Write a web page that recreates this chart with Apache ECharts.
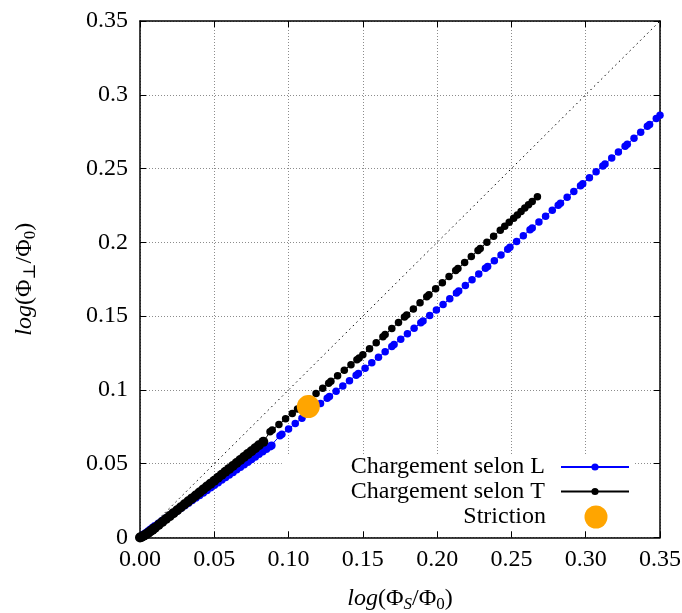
<!DOCTYPE html>
<html>
<head>
<meta charset="utf-8">
<script src="https://cdn.jsdelivr.net/npm/echarts@6/dist/echarts.min.js"></script>
<style>
html,body{margin:0;padding:0;background:#fff;}
#chart{width:682px;height:613px;}
</style>
</head>
<body>
<div id="chart"></div>
<script>
// ---- Data ----
var xTicks = [0, 0.05, 0.10, 0.15, 0.20, 0.25, 0.30, 0.35];
var yTicks = [0, 0.05, 0.1, 0.15, 0.2, 0.25, 0.3, 0.35];

var seriesNames = ['Chargement selon L', 'Chargement selon T', 'Striction'];

// Chargement selon L (blue) : [log(PhiS/Phi0), log(Phiperp/Phi0)]
var loadL = [
  [0,0],[0.001,0.0008],[0.0025,0.002],[0.004,0.0031],[0.0055,0.0043],[0.007,0.0055],[0.0085,0.0066],
  [0.01,0.0078],[0.0125,0.0095],[0.015,0.0113],[0.0175,0.0130],[0.02,0.0148],[0.0225,0.0165],
  [0.025,0.0182],[0.0275,0.0200],[0.03,0.0217],[0.0325,0.0234],[0.035,0.0252],[0.0375,0.0269],
  [0.04,0.0287],[0.0425,0.0304],[0.045,0.0321],[0.0475,0.0339],[0.05,0.0356],[0.0525,0.0373],
  [0.055,0.0391],[0.0575,0.0408],[0.06,0.0426],[0.0625,0.0443],[0.065,0.0460],[0.0675,0.0478],
  [0.07,0.0495],[0.0725,0.0512],[0.075,0.0530],[0.0775,0.0547],[0.08,0.0565],[0.0825,0.0582],
  [0.085,0.0599],[0.0875,0.0616],[0.0886,0.0624],
  [0.0942,0.0690],[0.0955,0.0700],[0.1,0.0736],[0.1045,0.0772],[0.109,0.0808],[0.1135,0.0844],
  [0.117,0.0872],[0.1215,0.0908],[0.126,0.0943],[0.1275,0.0955],[0.132,0.0991],[0.1365,0.1027],
  [0.141,0.1063],[0.1455,0.1099],[0.147,0.1111],[0.1515,0.1147],
  [0.156,0.1184],[0.1605,0.1221],[0.165,0.1258],[0.1695,0.1295],[0.171,0.1307],[0.1755,0.1344],
  [0.18,0.1381],[0.1845,0.1418],[0.189,0.1455],[0.1905,0.1467],[0.195,0.1504],[0.1995,0.1541],
  [0.204,0.1579],[0.2085,0.1618],[0.213,0.1657],[0.2145,0.1670],[0.219,0.1708],[0.2235,0.1747],
  [0.228,0.1786],[0.2325,0.1825],[0.234,0.1837],[0.2385,0.1876],[0.243,0.1915],[0.2475,0.1954],
  [0.249,0.1966],
  [0.2535,0.2006],[0.258,0.2045],[0.2625,0.2085],[0.264,0.2098],[0.2685,0.2138],[0.273,0.2177],
  [0.2775,0.2217],[0.2815,0.2252],[0.283,0.2265],[0.2875,0.2305],[0.292,0.2345],[0.2965,0.2384],
  [0.298,0.2397],
  [0.3025,0.2437],[0.307,0.2478],[0.3115,0.2518],[0.313,0.2531],[0.3175,0.2571],[0.322,0.2612],
  [0.3265,0.2652],[0.328,0.2665],[0.3325,0.2706],[0.337,0.2746],[0.3415,0.2786],[0.343,0.2799],
  [0.3475,0.2840],[0.35,0.2862]
];

// Chargement selon T (black)
var loadT = [
  [0,0],[0.001,0.0004],[0.0025,0.0012],[0.004,0.0021],[0.0055,0.0031],[0.007,0.0042],[0.0085,0.0053],
  [0.01,0.0065],[0.0125,0.0085],[0.015,0.0105],[0.0175,0.0125],[0.02,0.0145],[0.0225,0.0165],
  [0.025,0.0185],[0.0275,0.0205],[0.03,0.0225],[0.0325,0.0245],[0.035,0.0265],[0.0375,0.0285],
  [0.04,0.0305],[0.0425,0.0325],[0.045,0.0345],[0.0475,0.0365],[0.05,0.0385],[0.0525,0.0405],
  [0.055,0.0425],[0.0575,0.0445],[0.06,0.0465],[0.0625,0.0485],[0.065,0.0505],[0.0675,0.0525],
  [0.07,0.0545],[0.0725,0.0565],[0.075,0.0585],[0.0775,0.0605],[0.08,0.0625],[0.083,0.0648],
  [0.0875,0.0716],[0.089,0.0729],[0.0935,0.0766],[0.098,0.0804],[0.1025,0.0841],[0.106,0.0871],
  [0.1095,0.0900],[0.114,0.0937],[0.1185,0.0975],[0.123,0.1012],[0.127,0.1046],[0.1285,0.1058],
  [0.133,0.1096],[0.1375,0.1134],[0.142,0.1171],[0.146,0.1205],[0.1475,0.1217],[0.15,0.1238],
  [0.1545,0.1279],[0.159,0.1320],[0.1635,0.1361],[0.165,0.1375],[0.1695,0.1416],[0.174,0.1457],
  [0.178,0.1494],[0.1795,0.1508],[0.184,0.1549],[0.1885,0.1590],[0.193,0.1631],[0.1945,0.1645],
  [0.199,0.1686],
  [0.2035,0.1727],[0.208,0.1768],[0.2125,0.1809],[0.214,0.1822],[0.2185,0.1863],[0.223,0.1904],
  [0.2275,0.1945],[0.229,0.1959],[0.2335,0.2000],[0.238,0.2041],[0.2425,0.2082],[0.2455,0.2109],
  [0.2485,0.2136],[0.2515,0.2164],[0.254,0.2186],[0.2565,0.2209],[0.259,0.2232],[0.2615,0.2255],
  [0.264,0.2277],[0.2675,0.2309]
];

// Striction point
var striction = [[0.1133, 0.0887]];

// Reference line y = x
var diagonal = [[0, 0], [0.35, 0.35]];

// ---- Chart ----
var FONT = '"Liberation Serif", "DejaVu Serif", serif';
var chart = echarts.init(document.getElementById('chart'), null, {renderer: 'canvas'});

var gridLine = {show: true, lineStyle: {color: '#8c8c8c', type: [1, 2], width: 1}};
function baseAxis(extra) {
  var a = {
    type: 'value', min: 0, max: 0.35, interval: 0.05,
    axisLine: {show: true, onZero: false, lineStyle: {color: '#000', width: 1.5}},
    axisTick: {show: true, inside: true, length: 6, lineStyle: {color: '#000', width: 1}},
    splitLine: {show: false},
    axisLabel: {show: false}
  };
  for (var k in extra) a[k] = extra[k];
  return a;
}
var nameRich = {
  it: {fontFamily: FONT, fontSize: 24, fontStyle: 'italic', color: '#000'},
  n: {fontFamily: FONT, fontSize: 24, color: '#000'},
  si: {fontFamily: FONT, fontSize: 17, fontStyle: 'italic', color: '#000', padding: [12, 0, 0, 0]},
  s: {fontFamily: FONT, fontSize: 17, color: '#000', padding: [12, 0, 0, 0]}
};

chart.setOption({
  animation: false,
  backgroundColor: '#fff',
  grid: {left: 140, right: 22, top: 21, bottom: 75.5, containLabel: false, outerBoundsMode: 'none'},
  xAxis: [
    baseAxis({
      position: 'bottom',
      splitLine: gridLine,
      axisLabel: {
        show: true, margin: 10, color: '#000', fontFamily: FONT, fontSize: 24,
        formatter: function (v) {
          for (var i = 0; i < xTicks.length; i++) if (Math.abs(xTicks[i] - v) < 1e-9) return xTicks[i].toFixed(2);
          return '';
        }
      },
      name: '{it|log}{n|(Φ}{si|S}{n|/Φ}{s|0}{n|)}',
      nameLocation: 'middle', nameGap: 47,
      nameTextStyle: {rich: nameRich}
    }),
    baseAxis({position: 'top'})
  ],
  yAxis: [
    baseAxis({
      position: 'left',
      splitLine: gridLine,
      axisLabel: {
        show: true, margin: 12, color: '#000', fontFamily: FONT, fontSize: 24,
        formatter: function (v) {
          for (var i = 0; i < yTicks.length; i++) if (Math.abs(yTicks[i] - v) < 1e-9) return String(yTicks[i]);
          return '';
        }
      },
      name: '{it|log}{n|(Φ}{s|⊥}{n|/Φ}{s|0}{n|)}',
      nameLocation: 'middle', nameGap: 101,
      nameTextStyle: {rich: nameRich}
    }),
    baseAxis({position: 'right'})
  ],
  legend: [
    {
      data: [seriesNames[0], seriesNames[1]],
      orient: 'vertical', align: 'right',
      right: 49, top: 455,
      itemWidth: 68, itemHeight: 9, itemGap: 0.5,
      padding: [0, 3, 4, 69],
      backgroundColor: '#fff',
      textStyle: {fontFamily: FONT, fontSize: 24, color: '#000', padding: [0, 11, 0, 0]},
      selectedMode: false
    },
    {
      data: [{name: seriesNames[2], icon: 'circle'}],
      orient: 'vertical', align: 'right',
      right: 49, top: 505,
      itemWidth: 23, itemHeight: 23, itemGap: 0,
      padding: [0, 25.5, 1, 184],
      backgroundColor: '#fff',
      itemStyle: {opacity: 1},
      textStyle: {fontFamily: FONT, fontSize: 24, color: '#000', padding: [0, 33.5, 0, 0]},
      selectedMode: false
    }
  ],
  series: [
    {
      name: 'diag', type: 'line', data: diagonal, silent: true,
      symbol: 'none', z: 1,
      lineStyle: {color: '#000', width: 1, type: [1.5, 3.5]}
    },
    {
      name: seriesNames[0], type: 'line', data: loadL,
      symbol: 'circle', showSymbol: true,
      symbolSize: function (v) { return v[0] < 0.09 ? 8 : 7.5; },
      itemStyle: {color: '#0000ff', opacity: 1},
      lineStyle: {color: '#0000ff', width: 1},
      z: 2
    },
    {
      name: seriesNames[1], type: 'line', data: loadT,
      symbol: 'circle', showSymbol: true,
      symbolSize: function (v) { return v[0] < 0.085 ? 10 : 7.5; },
      itemStyle: {color: '#000000', opacity: 1},
      lineStyle: {color: '#000000', width: 1},
      z: 3
    },
    {
      name: seriesNames[2], type: 'scatter', data: striction,
      symbol: 'circle', symbolSize: 23,
      itemStyle: {color: '#ffa500', opacity: 1},
      z: 4
    }
  ]
});
</script>
</body>
</html>
